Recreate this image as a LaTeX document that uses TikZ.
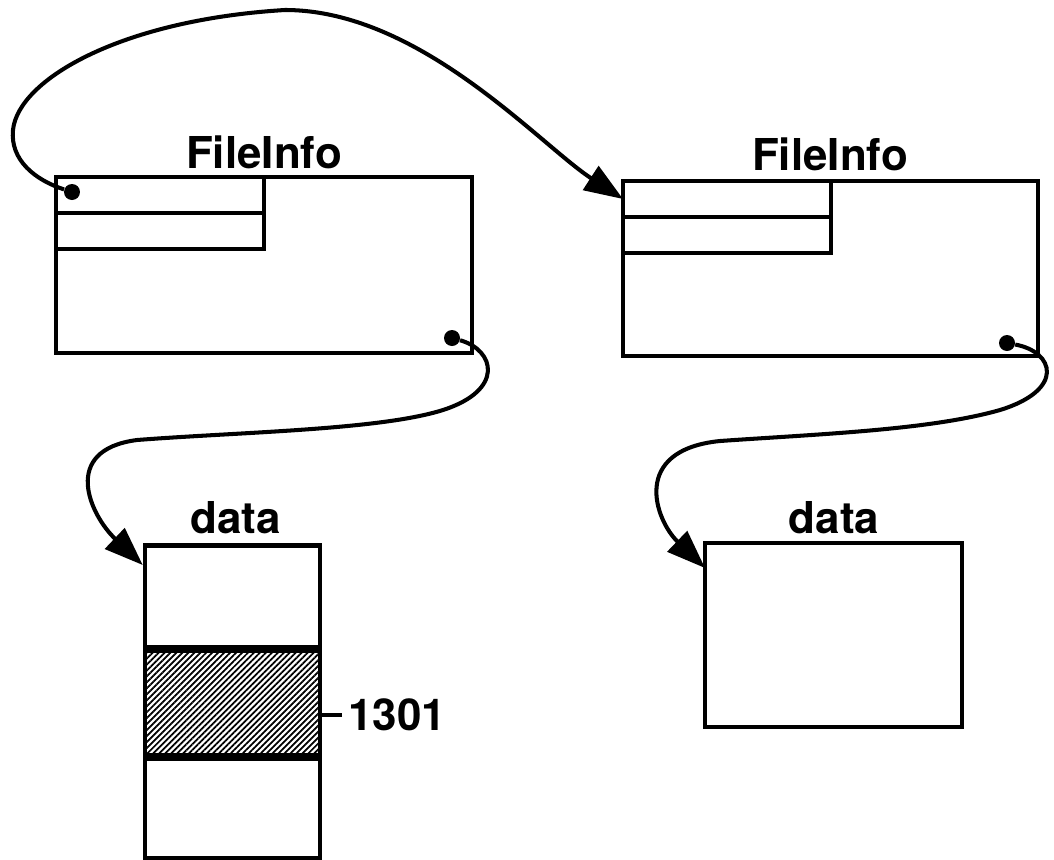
\documentclass[tikz,border=0pt]{standalone}
\usepackage{fontspec}
\setmainfont{TeX Gyre Heros}
\usepackage{tikz}
\usetikzlibrary{
  arrows.meta, positioning, calc,
  patterns.meta
}

\begin{document}
\begin{tikzpicture}
    [x=0.02cm,y=-0.02cm,
     record/.style={rectangle,draw,line width=2.6pt,inner sep=0pt,outer sep=0pt},
     field/.style={rectangle,draw,line width=2.2pt,inner sep=0pt,outer sep=0pt,minimum width=4.16cm,minimum height=0.72cm,anchor=north west},
     cell/.style={rectangle,draw,line width=2.6pt,inner sep=0pt,minimum width=3.5cm,anchor=north},
     ptr/.style={circle,fill,inner sep=0pt,minimum size=0.32cm},
     title/.style={anchor=base,font=\fontsize{25}{30}\selectfont\bfseries},
     link/.style={line width=2.3pt,-{Triangle[length=22pt,width=16pt]}}]
    \useasboundingbox (0,0) rectangle (1054,859);

    \node (fi1) at (264,265) [record,minimum width=8.32cm,minimum height=3.52cm] {};
    \node (fi1a) at (fi1.north west) [field] {};
    \node (fi1b) at (fi1a.south west) [field] {};
    \node (t1) at (264,168) [title] {FileInfo};

    \node (fi2) at (830.5,268.5) [record,minimum width=8.3cm,minimum height=3.5cm] {};
    \node (fi2a) at (fi2.north west) [field] {};
    \node (fi2b) at (fi2a.south west) [field] {};
    \node (t2) at (830,170) [title] {FileInfo};

    \node (d1a) at (232.5,543) [cell,minimum height=2.04cm] {};
    \node (d1b) at (d1a.south) [cell,minimum height=2.1cm,
        pattern={Lines[angle=45,distance=2.4pt,line width=1pt]}] {};
    \node (d1c) at (d1b.south) [cell,minimum height=2.0cm] {};
    \node (t3) at (236,533) [title] {data};

    \node (d2) at (833.5,635) [record,minimum width=5.14cm,minimum height=3.68cm] {};
    \node (t4) at (834,533) [title] {data};

    \node (num) at (342,715) [title,anchor=west] {1301};
    \draw[line width=2.2pt] (num.west) -- (num.west -| d1b.east);

    \node (p1) at (72,192) [ptr] {};
    \node (p2) at (452,338) [ptr] {};
    \node (p3) at (1007,343) [ptr] {};
    \coordinate (in1) at ([yshift=-0.44cm]d1a.north west);
    \coordinate (in2) at ([yshift=-0.5cm]d2.north west);

    \draw[link] (p1) .. controls (35,180) and (10,160) .. (13,130)
        .. controls (18,80) and (120,20) .. (285,10)
        .. controls (420,10) and (540,145) .. (fi2a.west);

    \draw[link] (p2) .. controls (495,350) and (505,390) .. (443,410)
        .. controls (380,430) and (240,432) .. (137,440)
        .. controls (60,450) and (90,515) .. (in1);

    \draw[link] (p3) .. controls (1055,352) and (1065,390) .. (1000,410)
        .. controls (930,430) and (820,434) .. (720,441)
        .. controls (630,450) and (655,520) .. (in2);
\end{tikzpicture}
\end{document}
